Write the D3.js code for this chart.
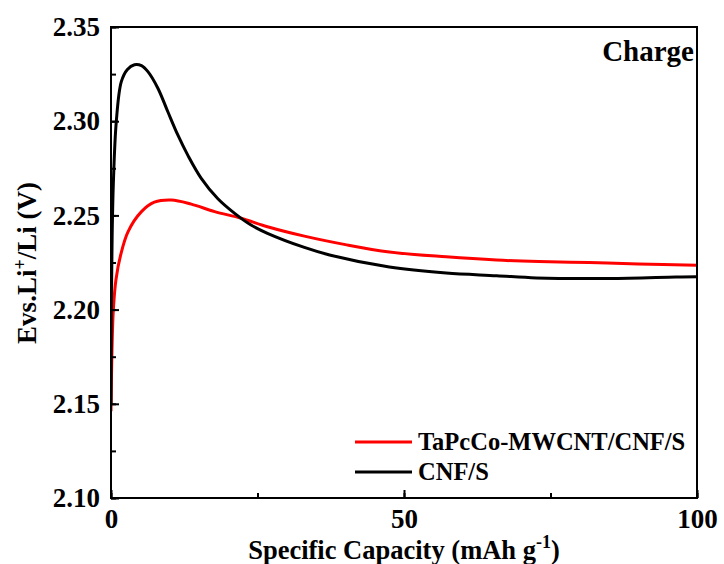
<!DOCTYPE html>
<html><head><meta charset="utf-8">
<script src="https://cdn.jsdelivr.net/npm/d3@7"></script>
<style>body{margin:0;background:#fff}svg{display:block}</style>
</head><body><svg id="c" width="724" height="564"></svg>
<script>
const xTicks = [0, 50, 100];
const yTicks = [2.10, 2.15, 2.20, 2.25, 2.30, 2.35];
const seriesNames = ["TaPcCo-MWCNT/CNF/S", "CNF/S"];
const seriesColors = ["#ff0000", "#000000"];
const redCap = [0, 0.17, 0.4, 0.85, 1.65, 2.9, 5.2, 7.4, 10.3, 13.7, 17.7, 22.2, 26.7, 33, 40, 47.5, 57.2, 65.8, 73, 81.6, 90, 100];
const redV   = [2.146, 2.179, 2.200, 2.216, 2.229, 2.2413, 2.252, 2.257, 2.2582, 2.256, 2.252, 2.2485, 2.244, 2.239, 2.2345, 2.2306, 2.228, 2.2263, 2.2255, 2.225, 2.2242, 2.2235];
const blackCap = [0, 0.05, 0.2, 0.4, 0.9, 1.76, 2.8, 4.0, 5.2, 6.3, 8.0, 9.7, 11.4, 13.1, 15.4, 18.2, 21.1, 23.9, 26.7, 33, 37.3, 47.5, 57.2, 65.8, 72.6, 85, 96.4, 100];
const blackV   = [2.15, 2.20, 2.24, 2.267, 2.2997, 2.321, 2.3275, 2.330, 2.3295, 2.3263, 2.3175, 2.305, 2.2927, 2.282, 2.2697, 2.259, 2.2511, 2.2449, 2.2405, 2.233, 2.229, 2.2226, 2.2194, 2.218, 2.2168, 2.2165, 2.2173, 2.2175];

const FONT = "'Liberation Serif', 'Times New Roman', Times, serif";
const svg = d3.select("#c");
const L = 111, R = 697, T = 27, B = 498;
const x = d3.scaleLinear().domain([0, 100]).range([L, R]);
const y = d3.scaleLinear().domain([2.10, 2.35]).range([B, T]);

const line = d3.line().x(d => x(d[0])).y(d => y(d[1])).curve(d3.curveCatmullRom.alpha(0.5));
svg.append("clipPath").attr("id","cp").append("rect").attr("x",L).attr("y",T).attr("width",R-L).attr("height",B-T);
const g = svg.append("g").attr("clip-path","url(#cp)");
g.append("path").datum(redCap.map((c,i)=>[c, redV[i]])).attr("d", line).attr("fill","none").attr("stroke", seriesColors[0]).attr("stroke-width", 3);
g.append("path").datum(blackCap.map((c,i)=>[c, blackV[i]])).attr("d", line).attr("fill","none").attr("stroke", seriesColors[1]).attr("stroke-width", 3);

svg.append("rect").attr("x",L).attr("y",T).attr("width",R-L).attr("height",B-T).attr("fill","none").attr("stroke","#000").attr("stroke-width",2);

function styleText(sel, size) {
  sel.style("font-family", FONT).style("font-weight", "bold").style("font-size", size + "px").attr("fill", "#000");
}
const xMinor = d3.range(0, 101, 25);
const yMinor = d3.range(0, 11).map(i => 2.10 + i*0.025);
svg.append("g").attr("transform",`translate(0,${B})`)
  .call(d3.axisBottom(x).tickValues(xMinor).tickSize(-5).tickFormat(""))
  .call(a => { a.select(".domain").remove(); a.selectAll("line").attr("stroke-width",2); });
svg.append("g").attr("transform",`translate(0,${B})`)
  .call(d3.axisBottom(x).tickValues(xTicks).tickSize(-8).tickPadding(11).tickFormat(d3.format("d")))
  .call(a => { a.select(".domain").remove(); a.selectAll("line").attr("stroke-width",2);
    styleText(a.selectAll("text"), 27); });
svg.append("g").attr("transform",`translate(${L},0)`)
  .call(d3.axisLeft(y).tickValues(yMinor).tickSize(-5).tickFormat(""))
  .call(a => { a.select(".domain").remove(); a.selectAll("line").attr("stroke-width",2); });
svg.append("g").attr("transform",`translate(${L},0)`)
  .call(d3.axisLeft(y).tickValues(yTicks).tickSize(-8).tickPadding(11).tickFormat(d3.format(".2f")))
  .call(a => { a.select(".domain").remove(); a.selectAll("line").attr("stroke-width",2);
    styleText(a.selectAll("text"), 27); });

styleText(svg.append("text").attr("x", 694).attr("y", 61).attr("text-anchor","end").text("Charge"), 29);

const xt = svg.append("text").attr("x", 404).attr("y", 559).attr("text-anchor","middle");
styleText(xt, 26.5);
xt.append("tspan").text("Specific Capacity (mAh g");
xt.append("tspan").attr("dy",-11).style("font-size","18px").text("-1");
xt.append("tspan").attr("dy",11).text(")");
const yt = svg.append("text").attr("transform","translate(36,263) rotate(-90)").attr("text-anchor","middle");
styleText(yt, 27);
yt.append("tspan").text("Evs.Li");
yt.append("tspan").attr("dy",-10).style("font-size","18px").text("+");
yt.append("tspan").attr("dy",10).text("/Li (V)");

const legY = [442, 472];
seriesNames.forEach((n,i) => {
  svg.append("line").attr("x1",355).attr("x2",412).attr("y1",legY[i]).attr("y2",legY[i]).attr("stroke",seriesColors[i]).attr("stroke-width",3);
  styleText(svg.append("text").attr("x",418).attr("y",legY[i]+8).text(n), 24.5);
});
</script></body></html>
